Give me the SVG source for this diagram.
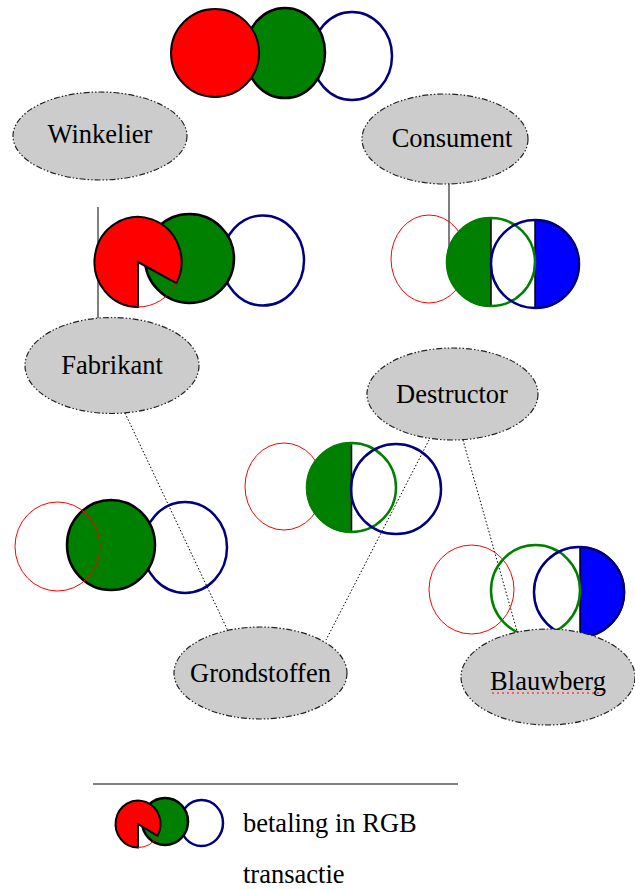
<svg xmlns="http://www.w3.org/2000/svg" width="635" height="889" viewBox="0 0 635 889">
<style>
.node{fill:#cccccc;stroke:#222;stroke-width:1.2;stroke-dasharray:6 2 1.5 2 1.5 2}
.lbl{font-family:"Liberation Serif","Times New Roman",serif;font-size:26.5px;fill:#000;text-anchor:middle}
.leg{font-family:"Liberation Serif","Times New Roman",serif;font-size:26.5px;fill:#000}
.rfill{fill:#ff0000;stroke:#000;stroke-width:2}
.gfill{fill:#008000;stroke:#000;stroke-width:2.5}
.rline{fill:none;stroke:#ff0000;stroke-width:1}
.gline{fill:none;stroke:#008000;stroke-width:2.5}
.bline{fill:none;stroke:#000080;stroke-width:2.5}
.halfg{fill:#008000;stroke:#000;stroke-width:1.5}
.halfb{fill:#0000ff;stroke:#000;stroke-width:1.5}
.solid{stroke:#000;stroke-width:1;fill:none}
.dot{stroke:#000;stroke-width:1;fill:none;stroke-dasharray:1.5 2}
</style>
<rect width="635" height="889" fill="#ffffff"/>
<g id="connectors">
<line class="solid" x1="98" y1="207" x2="98" y2="318"/>
<line class="solid" x1="449" y1="184" x2="449" y2="263"/>
<line class="dot" x1="125" y1="413" x2="228" y2="631"/>
<line class="dot" x1="429" y1="440" x2="326" y2="640"/>
<line class="dot" x1="463" y1="440" x2="517" y2="631"/>
</g>
<g id="rgb-top">
<ellipse class="bline" cx="352" cy="56" rx="40" ry="44"/>
<ellipse class="gfill" cx="285" cy="53" rx="40" ry="45"/>
<ellipse class="rfill" cx="215" cy="53" rx="44" ry="44"/>
</g>
<g id="winkelier">
<ellipse class="node" cx="100" cy="136" rx="87" ry="44"/>
<text class="lbl" x="100" y="143">Winkelier</text>
</g>
<g id="consument">
<ellipse class="node" cx="445" cy="139" rx="83" ry="45"/>
<text class="lbl" x="452" y="147">Consument</text>
</g>
<g id="rgb-winkelier">
<ellipse class="bline" cx="263" cy="260.5" rx="41" ry="45"/>
<ellipse class="gfill" cx="189.5" cy="258.5" rx="44.5" ry="44.5"/>
<path class="rfill" d="M138,262 L138,307 A43.5,45 0 1 1 176.4,283.1 Z"/>
<path class="rline" d="M176.4,283.1 A43.5,45 0 0 1 138,307"/>
</g>
<g id="rgb-consument">
<ellipse class="rline" cx="429" cy="259" rx="38" ry="44"/>
<path class="halfg" d="M491,218 A44,44 0 0 0 491,306 Z"/>
<path class="halfb" d="M535,220 A44,44 0 0 1 535,308 Z"/>
<ellipse class="gline" cx="491" cy="262" rx="44" ry="44"/>
<ellipse class="bline" cx="535" cy="264" rx="44" ry="44"/>
</g>
<g id="fabrikant">
<ellipse class="node" cx="112" cy="365.5" rx="87" ry="48"/>
<text class="lbl" x="112" y="374">Fabrikant</text>
</g>
<g id="destructor">
<ellipse class="node" cx="452.5" cy="394" rx="85.5" ry="46"/>
<text class="lbl" x="452" y="403">Destructor</text>
</g>
<g id="rgb-destructor">
<ellipse class="rline" cx="284" cy="486.5" rx="39" ry="43.5"/>
<path class="halfg" d="M351.5,443 A44.5,44.5 0 0 0 351.5,532 Z"/>
<ellipse class="gline" cx="351.5" cy="487.5" rx="44.5" ry="44.5"/>
<ellipse class="bline" cx="396" cy="489" rx="45" ry="45"/>
</g>
<g id="rgb-fabrikant">
<ellipse class="bline" cx="185" cy="547.5" rx="42" ry="45.5"/>
<ellipse class="gfill" cx="111" cy="545" rx="44" ry="45"/>
<ellipse class="rline" cx="57.5" cy="546.5" rx="42.5" ry="44.5"/>
</g>
<g id="rgb-blauwberg">
<ellipse class="rline" cx="471.5" cy="589.5" rx="42.5" ry="44.5"/>
<path class="halfb" d="M580,547 A44.5,45 0 0 1 580,637 Z"/>
<ellipse class="gline" cx="535.5" cy="590.5" rx="44.5" ry="45.5"/>
<ellipse class="bline" cx="579" cy="592" rx="45" ry="45"/>
</g>
<g id="grondstoffen">
<ellipse class="node" cx="260.5" cy="673" rx="86.5" ry="46"/>
<text class="lbl" x="260.5" y="682">Grondstoffen</text>
</g>
<g id="blauwberg">
<ellipse class="node" cx="548" cy="677" rx="87" ry="48"/>
<text class="lbl" x="548" y="690">Blauwberg</text>
<line x1="492" y1="693" x2="605" y2="693" stroke="#ff0000" stroke-width="1" stroke-dasharray="2 3"/>
</g>
<g id="legend">
<line class="solid" x1="93" y1="784" x2="458" y2="784"/>
<ellipse class="bline" cx="201.5" cy="823" rx="21.5" ry="23"/>
<ellipse class="gfill" cx="165" cy="821.5" rx="23" ry="23.5"/>
<path class="rfill" d="M138,824 L138,847.5 A22.5,23.5 0 1 1 157.5,835.8 Z"/>
<path class="rline" d="M157.5,835.8 A22.5,23.5 0 0 1 138,847.5"/>
<text class="leg" x="243" y="832">betaling in RGB</text>
<text class="leg" x="243" y="883">transactie</text>
</g>
</svg>
